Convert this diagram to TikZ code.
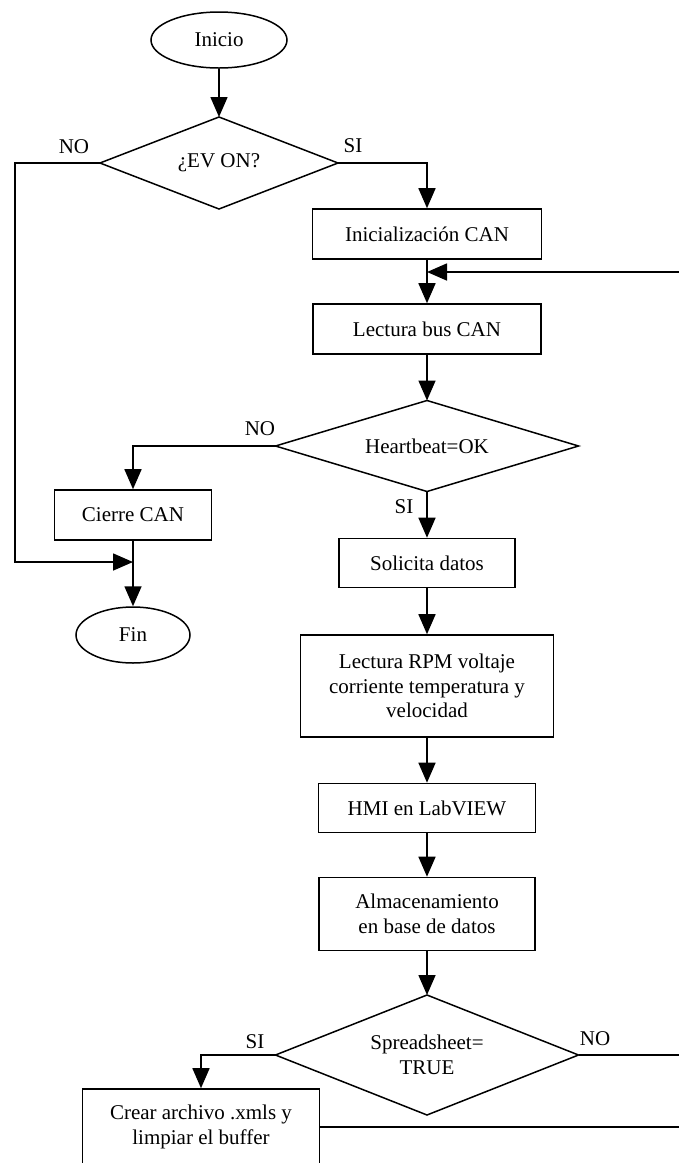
\documentclass[tikz,border=0pt]{standalone}
\usepackage{fontspec}
\setmainfont{Liberation Serif}
\usetikzlibrary{arrows.meta,shapes.geometric}
\begin{document}
\begin{tikzpicture}[x=1pt,y=-1pt,
  every node/.style={font=\fontsize{21}{24.5}\selectfont},
  box/.style={draw,line width=1.6pt,rectangle,inner sep=0pt,align=center},
  term/.style={draw,line width=1.5pt,ellipse,inner sep=0pt,minimum width=136pt,minimum height=56pt},
  dec/.style={rectangle,inner sep=0pt,outer sep=0pt,align=center},
  decline/.style={line width=1.5pt,line join=miter},
  lab/.style={inner sep=0pt},
  conn/.style={line width=1.6pt},
  arr/.style={conn,-{Triangle[length=20pt,width=17pt]}}]
\clip (0,0) rectangle (679,1163);
\fill[white] (0,0) rectangle (679,1163);
% nodes
\node[term] (inicio) at (219,40) {Inicio};
\node[dec,minimum width=238pt,minimum height=92pt] (ev) at (219,163) {¿EV ON?};
\node[box,minimum width=229pt,minimum height=50pt] (init) at (427,234) {Inicialización CAN};
\node[box,minimum width=228pt,minimum height=50pt] (lect) at (427,329) {Lectura bus CAN};
\node[dec,minimum width=303pt,minimum height=91pt] (hb) at (427,446) {Heartbeat=OK};
\node[box,minimum width=157pt,minimum height=50pt] (cierre) at (133,515) {Cierre CAN};
\node[term,minimum width=114pt] (fin) at (133,635) {Fin};
\node[box,minimum width=176pt,minimum height=49pt] (sol) at (427,563) {Solicita datos};
\node[box,minimum width=253pt,minimum height=102pt] (rpm) at (427,686) {Lectura RPM voltaje\\corriente temperatura y\\velocidad};
\node[box,minimum width=217pt,minimum height=49pt] (hmi) at (427,808) {HMI en LabVIEW};
\node[box,minimum width=216pt,minimum height=73pt] (alm) at (427,914) {Almacenamiento\\en base de datos};
\node[dec,minimum width=303pt,minimum height=120pt] (ss) at (427,1055) {Spreadsheet=\\TRUE};
\node[box,minimum width=237pt,minimum height=76pt] (crear) at (201,1127) {Crear archivo .xmls y\\limpiar el buffer};
% diamond outlines
\draw[decline] (ev.north) -- (ev.east) -- (ev.south) -- (ev.west) -- cycle;
\draw[decline] (hb.north) -- (hb.east) -- (hb.south) -- (hb.west) -- cycle;
\draw[decline] (ss.north) -- (ss.east) -- (ss.south) -- (ss.west) -- cycle;
% labels
\node[lab] (l1) at (74,147) {NO};
\node[lab] (l2) at (353,146) {SI};
\node[lab] (l3) at (260,429) {NO};
\node[lab] (l4) at (404,507) {SI};
\node[lab] (l5) at (255,1042) {SI};
\node[lab] (l6) at (595,1039) {NO};
% coordinates
\coordinate (lft) at (15,562);
\coordinate (jfin) at (133,562);
\coordinate (loopR) at (680,272);
\coordinate (loopL) at (427,272);
\coordinate (ssR) at (680,1055);
\coordinate (crR) at (680,1127);
% connectors
\draw[arr] (inicio.south) -- (ev.north);
\draw[arr] (ev.west) -| (lft) -- (jfin);
\draw[arr] (ev.east) -| (init.north);
\draw[arr] (init.south) -- (lect.north);
\draw[arr] (loopR) -- (loopL);
\draw[arr] (lect.south) -- (hb.north);
\draw[arr] (hb.west) -| (cierre.north);
\draw[arr] (cierre.south) -- (fin.north);
\draw[arr] (hb.south) -- (sol.north);
\draw[arr] (sol.south) -- (rpm.north);
\draw[arr] (rpm.south) -- (hmi.north);
\draw[arr] (hmi.south) -- (alm.north);
\draw[arr] (alm.south) -- (ss.north);
\draw[arr] (ss.west) -| (crear.north);
\draw[conn] (ss.east) -- (ssR);
\draw[conn] (crear.east) -- (crR);
\end{tikzpicture}
\end{document}
